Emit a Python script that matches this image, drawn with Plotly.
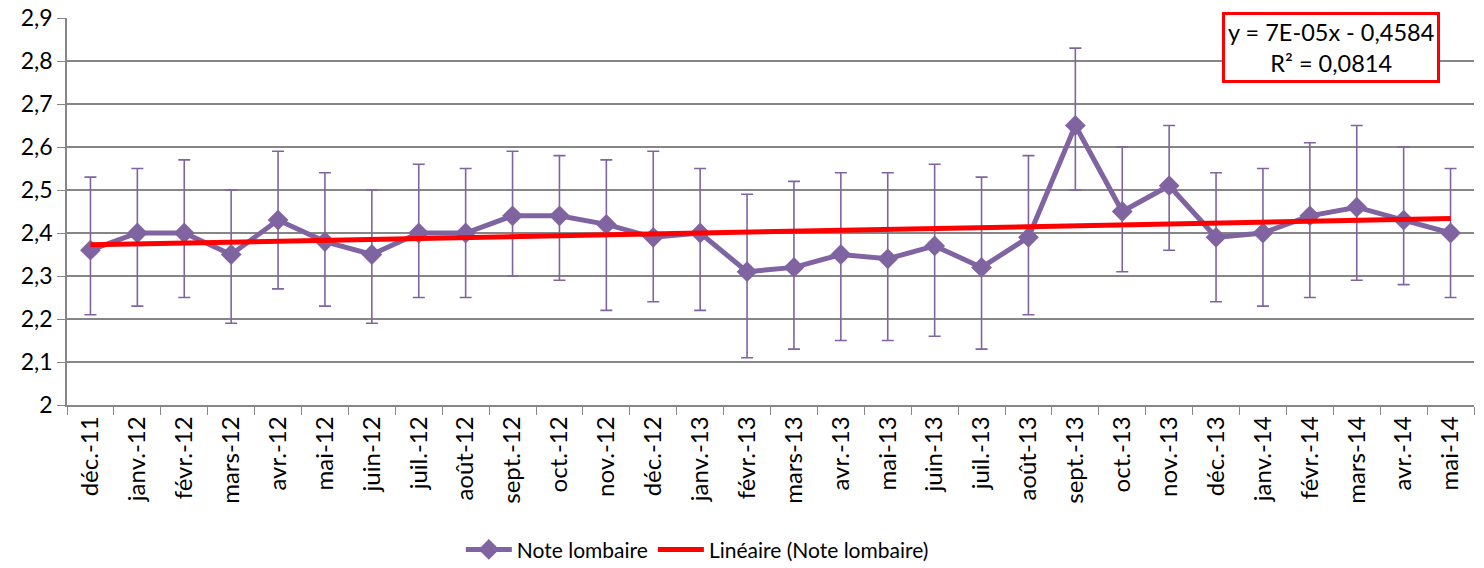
import numpy as np
import plotly.graph_objects as go

months = ["déc.-11", "janv.-12", "févr.-12", "mars-12", "avr.-12", "mai-12", "juin-12",
          "juil.-12", "août-12", "sept.-12", "oct.-12", "nov.-12", "déc.-12", "janv.-13",
          "févr.-13", "mars-13", "avr.-13", "mai-13", "juin-13", "juil.-13", "août-13",
          "sept.-13", "oct.-13", "nov.-13", "déc.-13", "janv.-14", "févr.-14", "mars-14",
          "avr.-14", "mai-14"]
note = [2.36, 2.40, 2.40, 2.35, 2.43, 2.38, 2.35, 2.40, 2.40, 2.44, 2.44, 2.42, 2.39, 2.40,
        2.31, 2.32, 2.35, 2.34, 2.37, 2.32, 2.39, 2.65, 2.45, 2.51, 2.39, 2.40, 2.44, 2.46,
        2.43, 2.40]
upper = [2.53, 2.55, 2.57, 2.50, 2.59, 2.54, 2.50, 2.56, 2.55, 2.59, 2.58, 2.57, 2.59, 2.55,
         2.49, 2.52, 2.54, 2.54, 2.56, 2.53, 2.58, 2.83, 2.60, 2.65, 2.54, 2.55, 2.61, 2.65,
         2.60, 2.55]
lower = [2.21, 2.23, 2.25, 2.19, 2.27, 2.23, 2.19, 2.25, 2.25, 2.30, 2.29, 2.22, 2.24, 2.22,
         2.11, 2.13, 2.15, 2.15, 2.16, 2.13, 2.21, 2.50, 2.31, 2.36, 2.24, 2.23, 2.25, 2.29,
         2.28, 2.25]
trend_label = "y = 7E-05x - 0,4584<br>R² = 0,0814"

note_a = np.array(note)
idx = np.arange(len(note))
slope, intercept = np.polyfit(idx, note_a, 1)
trend = slope * idx + intercept

purple = "#8064A2"
fig = go.Figure()
fig.add_trace(go.Scatter(
    x=months, y=note, name="Note lombaire", mode="lines+markers",
    line=dict(color=purple, width=5),
    marker=dict(symbol="diamond", size=16, color=purple),
    error_y=dict(type="data", symmetric=False,
                 array=(np.array(upper) - note_a).tolist(),
                 arrayminus=(note_a - np.array(lower)).tolist(),
                 color=purple, thickness=1.6, width=6),
))
fig.add_trace(go.Scatter(
    x=[months[0], months[-1]], y=[trend[0], trend[-1]],
    name="Linéaire (Note lombaire)", mode="lines",
    line=dict(color="#FF0000", width=5),
))

fig.add_annotation(
    x=0.9758, y=1.0155, xref="paper", yref="paper", xanchor="right", yanchor="top",
    text=trend_label, showarrow=False, align="center",
    font=dict(size=23.5, color="black", family="Lato"),
    bordercolor="#FF0000", borderwidth=3, borderpad=3, bgcolor="white",
)

fig.update_layout(
    width=1484, height=568,
    margin=dict(l=67, r=10, t=18, b=163, autoexpand=False),
    paper_bgcolor="white", plot_bgcolor="white",
    separators=", ",
    font=dict(family="Lato", color="black"),
    showlegend=True,
    legend=dict(orientation="h", x=0.448, xanchor="center",
                yref="container", y=0.032, yanchor="middle",
                font=dict(size=21, family="Lato"), itemwidth=46),
    xaxis=dict(type="category", range=[-0.5, 29.5], tickangle=-90, automargin=False,
               tickfont=dict(size=24, family="Lato"),
               tickson="boundaries", ticks="outside", ticklen=8, tickcolor="#868686",
               showgrid=False, showline=True, linecolor="#868686", linewidth=1.5,
               ticklabeloverflow="allow"),
    yaxis=dict(range=[2.0, 2.9], dtick=0.1, tick0=2.0, automargin=False,
               tickfont=dict(size=23, family="Lato"),
               ticks="outside", ticklen=8, tickcolor="#868686",
               showgrid=True, gridcolor="#868686", gridwidth=1.5,
               showline=True, linecolor="#868686", linewidth=1.5, zeroline=False,
               ticklabeloverflow="allow"),
)

fig.write_html("out.html", config={"displayModeBar": False},
               post_script="document.body.style.margin='0';document.body.style.overflow='hidden';")
